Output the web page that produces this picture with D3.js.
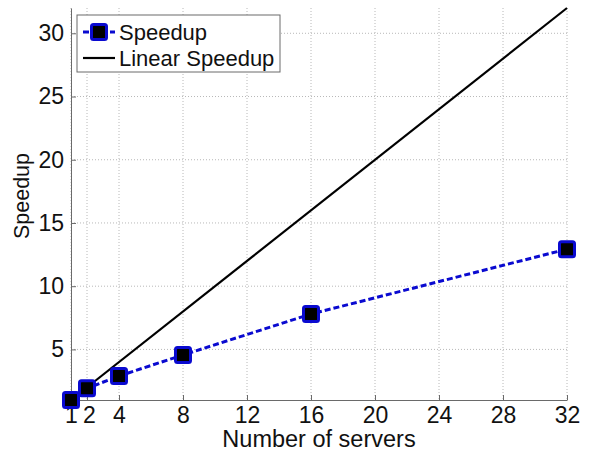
<!DOCTYPE html>
<html>
<head>
<meta charset="utf-8">
<script src="https://cdn.jsdelivr.net/npm/d3@7"></script>
<style>
  body { margin: 0; background: #fff; }
  svg text { font-family: "Liberation Sans", Arial, sans-serif; }
</style>
</head>
<body>
<svg id="chart" width="589" height="453"></svg>
<script>
var servers = [1, 2, 4, 8, 16, 32];
var speedup = [1, 1.92, 2.9, 4.56, 7.8, 12.93];
var linear = [1, 32];
var xTicks = [1, 2, 4, 8, 12, 16, 20, 24, 28, 32];
var yTicks = [5, 10, 15, 20, 25, 30];

var svg = d3.select("#chart"),
    margin = {left: 71, right: 22, top: 8, bottom: 53},
    width = 589 - margin.left - margin.right,
    height = 453 - margin.top - margin.bottom;

var x = d3.scaleLinear().domain([1, 32]).range([0, width]);
var y = d3.scaleLinear().domain([1, 32]).range([height, 0]);

var g = svg.append("g").attr("transform", "translate(" + margin.left + "," + margin.top + ")");

// grid
g.selectAll(".vgrid").data(xTicks).enter().append("line")
    .attr("x1", function (d) { return x(d); }).attr("x2", function (d) { return x(d); })
    .attr("y1", 0).attr("y2", height)
    .attr("stroke", "#b8b8b8").attr("stroke-width", 1).attr("stroke-dasharray", "1,2");
g.selectAll(".hgrid").data(yTicks).enter().append("line")
    .attr("x1", 0).attr("x2", width)
    .attr("y1", function (d) { return y(d); }).attr("y2", function (d) { return y(d); })
    .attr("stroke", "#b8b8b8").attr("stroke-width", 1).attr("stroke-dasharray", "1,2");

// axes
var xAxis = g.append("g").attr("transform", "translate(0," + height + ")")
    .call(d3.axisBottom(x).tickValues(xTicks).tickSize(-5).tickPadding(7).tickSizeOuter(0));
var yAxis = g.append("g")
    .call(d3.axisLeft(y).tickValues(yTicks).tickSize(-5).tickPadding(7).tickSizeOuter(0));
[xAxis, yAxis].forEach(function (a) {
    a.select(".domain").attr("stroke", "#6a6a6a");
    a.selectAll(".tick line").attr("stroke", "#6a6a6a");
    a.selectAll("text").attr("font-size", 23).attr("fill", "#111")
        .style("font-family", "'Liberation Sans', Arial, sans-serif");
});
xAxis.selectAll("text").attr("dy", "0.71em");
xAxis.selectAll(".tick").filter(function (d) { return d === 2; }).select("text").attr("dx", 2);

// linear speedup
g.append("path").datum(linear)
    .attr("fill", "none").attr("stroke", "#000").attr("stroke-width", 2.2)
    .attr("d", d3.line().x(function (d) { return x(d); }).y(function (d) { return y(d); }));

// measured speedup
var pts = servers.map(function (s, i) { return [s, speedup[i]]; });
g.append("path").datum(pts)
    .attr("fill", "none").attr("stroke", "#0a0ad0").attr("stroke-width", 3)
    .attr("stroke-dasharray", "6,3")
    .attr("d", d3.line().x(function (d) { return x(d[0]); }).y(function (d) { return y(d[1]); }));
g.selectAll(".mk").data(pts).enter().append("rect")
    .attr("x", function (d) { return x(d[0]) - 7.5; })
    .attr("y", function (d) { return y(d[1]) - 7.5; })
    .attr("width", 15).attr("height", 15).attr("rx", 2)
    .attr("fill", "#000").attr("stroke", "#0a0ad0").attr("stroke-width", 3);

// axis titles
svg.append("text").attr("x", 319).attr("y", 447)
    .attr("text-anchor", "middle").attr("font-size", 23.5).attr("fill", "#111")
    .text("Number of servers");
svg.append("text").attr("transform", "translate(29,196) rotate(-90)")
    .attr("text-anchor", "middle").attr("font-size", 21.5).attr("fill", "#111")
    .text("Speedup");

// legend
var lg = svg.append("g").attr("transform", "translate(77,15)");
lg.append("rect").attr("width", 203).attr("height", 57)
    .attr("fill", "#fff").attr("stroke", "#6a6a6a").attr("stroke-width", 1);
lg.append("line").attr("x1", 6).attr("x2", 38).attr("y1", 17).attr("y2", 17)
    .attr("stroke", "#0a0ad0").attr("stroke-width", 3).attr("stroke-dasharray", "6,3");
lg.append("rect").attr("x", 14.5).attr("y", 9.5).attr("width", 15).attr("height", 15).attr("rx", 2)
    .attr("fill", "#000").attr("stroke", "#0a0ad0").attr("stroke-width", 3);
lg.append("line").attr("x1", 6).attr("x2", 38).attr("y1", 43).attr("y2", 43)
    .attr("stroke", "#000").attr("stroke-width", 2.2);
lg.append("text").attr("x", 42).attr("y", 25).attr("font-size", 22).attr("fill", "#111").text("Speedup");
lg.append("text").attr("x", 42).attr("y", 51).attr("font-size", 22).attr("fill", "#111").text("Linear Speedup");
</script>
</body>
</html>
